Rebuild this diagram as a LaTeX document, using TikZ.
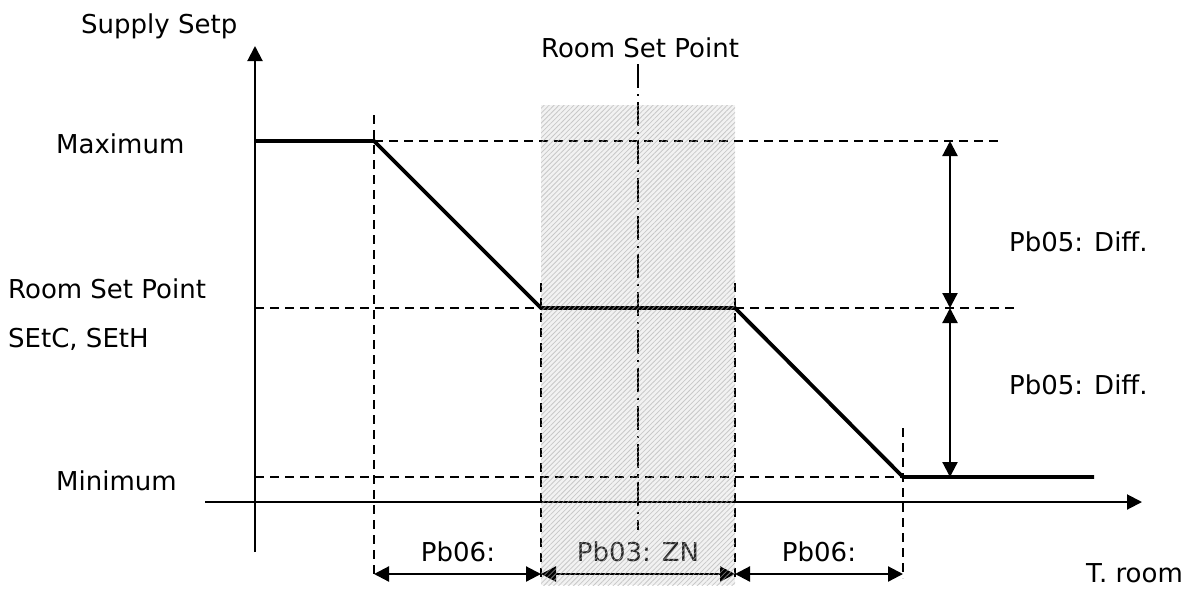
\documentclass[tikz,border=0pt]{standalone}
\usepackage{fontspec}
\setmainfont{DejaVu Sans}
\usetikzlibrary{arrows.meta,patterns.meta}
\begin{document}
\begin{tikzpicture}[x=1pt,y=-1pt,
  axis/.style={line width=2pt},
  curve/.style={line width=3.8pt, line join=miter},
  guide/.style={line width=1.6pt, dash pattern=on 9pt off 6pt},
  centre/.style={line width=2.2pt, dash pattern=on 24pt off 6pt on 2pt off 6pt},
  dim/.style={line width=2.2pt, {Triangle[length=15pt,width=15pt]}-{Triangle[length=15pt,width=15pt]}},
  lbl/.style={font=\fontsize{26}{30}\selectfont, inner sep=0pt},
  zone/.style={pattern={Lines[angle=45,distance=3.5pt,line width=0.8pt]}, pattern color=gray!60}]
\useasboundingbox (0,0) rectangle (1199,590);

% zone background
\coordinate (zA) at (541,105);
\coordinate (zB) at (735,585);
\fill[gray!10] (zA) rectangle (zB);

% key points
\coordinate (yb) at (255,552);
\coordinate (yt) at (255,46);
\coordinate (xl) at (205,502);
\coordinate (xr) at (1142,502);
\coordinate (p0) at (255,141);
\coordinate (p1) at (374,141);
\coordinate (p2) at (541,308);
\coordinate (p3) at (735,308);
\coordinate (p4) at (903,477);
\coordinate (p5) at (1094,477);

% axes
\draw[axis,-{Triangle[length=15pt,width=15pt]}] (yb) -- (yt);
\draw[axis,-{Triangle[length=15pt,width=15pt]}] (xl) -- (xr);

% guide lines
\coordinate (hmaxE) at (1000,141);
\coordinate (hsetW) at (255,308);
\coordinate (hsetE) at (1017,308);
\coordinate (hminW) at (255,477);
\draw[guide] (p1) -- (hmaxE);
\draw[guide] (hsetW) -- (hsetE);
\draw[guide] (hminW) -- (p4);

\coordinate (v1t) at (374,115);  \coordinate (v1b) at (374,578);
\coordinate (v2t) at (541,283);  \coordinate (v2b) at (541,580);
\coordinate (v3t) at (735,283);  \coordinate (v3b) at (735,580);
\coordinate (v4t) at (903,428);  \coordinate (v4b) at (903,578);
\draw[guide] (v1t) -- (v1b);
\draw[guide] (v2t) -- (v2b);
\draw[guide] (v3t) -- (v3b);
\draw[guide] (v4t) -- (v4b);

% centre line
\coordinate (ct) at (638,64);
\coordinate (cb) at (638,530);
\draw[centre] (ct) -- (cb);

% characteristic curve
\draw[curve] (p0) -- (p1) -- (p2) -- (p3) -- (p4) -- (p5);

% vertical dimensions
\coordinate (d1) at (950,141);
\coordinate (d2) at (950,308);
\coordinate (d3) at (950,477);
\draw[dim] (d1) -- (d2);
\draw[dim] (d2) -- (d3);

% horizontal dimensions
\coordinate (e1) at (374,574);
\coordinate (e2) at (541,574);
\coordinate (e3) at (735,574);
\coordinate (e4) at (903,574);
\draw[dim] (e1) -- (e2);
\draw[dim] (e2) -- (e3);
\draw[dim] (e3) -- (e4);

% labels
\node[lbl, anchor=base west] (tSupply) at (81,33) {Supply Setp};
\node[lbl, anchor=base] (tRoomTop) at (640,57) {Room Set Point};
\node[lbl, anchor=base west] (tMax) at (56,153) {Maximum};
\node[lbl, anchor=base west] (tRoom) at (8,298) {Room Set Point};
\node[lbl, anchor=base west] (tSet) at (8,347) {SEtC, SEtH};
\node[lbl, anchor=base west] (tMin) at (56,490) {Minimum};
\node[lbl, anchor=base west] (tDiff1) at (1009,251) {Pb05: Diff.};
\node[lbl, anchor=base west] (tDiff2) at (1009,394) {Pb05: Diff.};
\node[lbl, anchor=base] (tPb06a) at (458,561) {Pb06:};
\node[lbl, anchor=base, text=black!85] (tPb03) at (638,561) {Pb03: ZN};
\node[lbl, anchor=base] (tPb06b) at (819,561) {Pb06:};
\node[lbl, anchor=base west] (tRoomT) at (1086,582) {T. room};

% hatch overlay on zone
\fill[zone, opacity=0.65] (zA) rectangle (zB);
\end{tikzpicture}
\end{document}
